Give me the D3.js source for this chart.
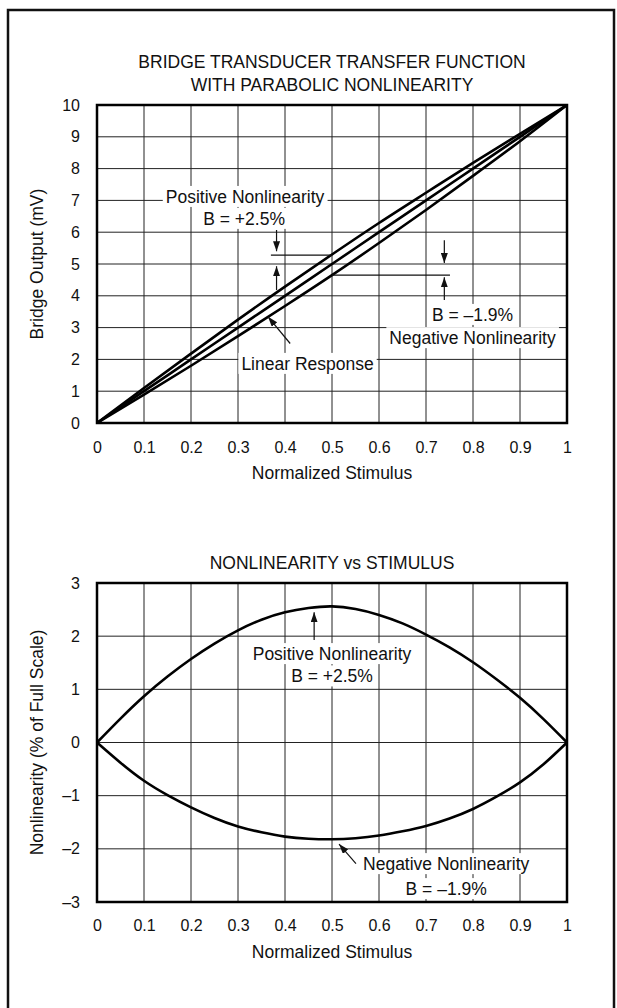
<!DOCTYPE html>
<html>
<head>
<meta charset="utf-8">
<script src="https://cdn.jsdelivr.net/npm/d3@7/dist/d3.min.js"></script>
<style>
  html, body { margin: 0; padding: 0; background: #fff; }
  svg { display: block; }
  text { font-family: "Liberation Sans", Arial, Helvetica, sans-serif; fill: #111; }
</style>
</head>
<body>
<svg id="chart" width="617" height="1008"></svg>
<script>
// ---------------- DATA ----------------
const xTicks = [0, 0.1, 0.2, 0.3, 0.4, 0.5, 0.6, 0.7, 0.8, 0.9, 1];
const xTickLabels = ["0", "0.1", "0.2", "0.3", "0.4", "0.5", "0.6", "0.7", "0.8", "0.9", "1"];

// Top chart: bridge output (mV) vs normalized stimulus
const topYTicks = [0, 1, 2, 3, 4, 5, 6, 7, 8, 9, 10];
const topYTickLabels = ["0", "1", "2", "3", "4", "5", "6", "7", "8", "9", "10"];
const stimulusTop = [0, 0.1, 0.2, 0.3, 0.4, 0.5, 0.6, 0.7, 0.8, 0.9, 1];
const linearResponse = [0, 1, 2, 3, 4, 5, 6, 7, 8, 9, 10];
const positiveResponse = [0, 1.1, 2.18, 3.25, 4.29, 5.3, 6.29, 7.24, 8.18, 9.09, 10];
const negativeResponse = [0, 0.89, 1.8, 2.73, 3.68, 4.65, 5.66, 6.7, 7.77, 8.86, 10];

// Bottom chart: nonlinearity (% of full scale) vs normalized stimulus
const bottomYTicks = [-3, -2, -1, 0, 1, 2, 3];
const bottomYTickLabels = ["\u20133", "\u20132", "\u20131", "0", "1", "2", "3"];
const stimulusBottom = [0, 0.05, 0.1, 0.15, 0.2, 0.25, 0.3, 0.35, 0.4, 0.45, 0.5,
                        0.55, 0.6, 0.65, 0.7, 0.75, 0.8, 0.85, 0.9, 0.95, 1];
const positiveNonlinearity = [0, 0.45, 0.87, 1.24, 1.57, 1.86, 2.11, 2.31, 2.45, 2.53, 2.56,
                              2.51, 2.4, 2.24, 2.03, 1.79, 1.51, 1.19, 0.84, 0.44, 0];
const negativeNonlinearity = [0, -0.38, -0.72, -0.99, -1.22, -1.42, -1.58, -1.69, -1.77, -1.81, -1.82,
                              -1.8, -1.75, -1.67, -1.57, -1.43, -1.25, -1.02, -0.75, -0.41, 0];

// Texts
const topTitle = ["BRIDGE TRANSDUCER TRANSFER FUNCTION", "WITH PARABOLIC NONLINEARITY"];
const bottomTitle = "NONLINEARITY vs STIMULUS";
const xAxisTitle = "Normalized Stimulus";
const topYAxisTitle = "Bridge Output (mV)";
const bottomYAxisTitle = "Nonlinearity (% of Full Scale)";

// Annotations (in data units)
const topLabels = [
  { text: "Positive Nonlinearity", x: 0.315, y: 6.92 },
  { text: "B = +2.5%", x: 0.313, y: 6.23 },
  { text: "B = \u20131.9%", x: 0.799, y: 3.21 },
  { text: "Negative Nonlinearity", x: 0.799, y: 2.48 },
  { text: "Linear Response", x: 0.448, y: 1.67 }
];
const topArrows = [
  { x1: 0.382, y1: 6.07, x2: 0.382, y2: 5.4 },
  { x1: 0.382, y1: 4.18, x2: 0.382, y2: 4.93 },
  { x1: 0.739, y1: 5.75, x2: 0.739, y2: 5.03 },
  { x1: 0.739, y1: 3.87, x2: 0.739, y2: 4.58 },
  { x1: 0.411, y1: 2.5, x2: 0.364, y2: 3.34 }
];
const topMarkers = [
  { x1: 0.37, x2: 0.5, y: 5.28 },
  { x1: 0.5, x2: 0.751, y: 4.65 }
];
const bottomLabels = [
  { text: "Positive Nonlinearity", x: 0.5, y: 1.55 },
  { text: "B = +2.5%", x: 0.5, y: 1.13 },
  { text: "Negative Nonlinearity", x: 0.743, y: -2.4 },
  { text: "B = \u20131.9%", x: 0.743, y: -2.87 }
];
const bottomArrows = [
  { x1: 0.462, y1: 1.93, x2: 0.462, y2: 2.45 },
  { x1: 0.551, y1: -2.28, x2: 0.515, y2: -1.91 }
];

// ---------------- DRAW ----------------
const svg = d3.select("#chart");
const FONT = 17.5;
const TICKFONT = 16;

svg.append("defs").append("marker")
  .attr("id", "arrow")
  .attr("markerUnits", "userSpaceOnUse")
  .attr("markerWidth", 10).attr("markerHeight", 7)
  .attr("refX", 10).attr("refY", 3.5)
  .attr("orient", "auto")
  .append("path").attr("d", "M0,0 L10,3.5 L0,7 Z").attr("fill", "#111");

// outer frame
svg.append("rect")
  .attr("x", 8).attr("y", 10).attr("width", 606).attr("height", 1010)
  .attr("fill", "none").attr("stroke", "#111").attr("stroke-width", 2.5);

function drawPanel(opts) {
  const g = svg.append("g");
  const x = d3.scaleLinear().domain([0, 1]).range([97, 567]);
  const y = d3.scaleLinear().domain(opts.yDomain).range(opts.yRange);

  // grid
  g.append("g").selectAll("line").data(xTicks).join("line")
    .attr("x1", d => x(d)).attr("x2", d => x(d))
    .attr("y1", y(opts.yDomain[0])).attr("y2", y(opts.yDomain[1]))
    .attr("stroke", "#222").attr("stroke-width", 1);
  g.append("g").selectAll("line").data(opts.yTicks).join("line")
    .attr("y1", d => y(d)).attr("y2", d => y(d))
    .attr("x1", x(0)).attr("x2", x(1))
    .attr("stroke", "#222").attr("stroke-width", 1);

  // axes (labels only)
  const xa = g.append("g").attr("transform", `translate(0,${y(opts.yDomain[0])})`)
    .call(d3.axisBottom(x).tickValues(xTicks).tickFormat((d, i) => xTickLabels[i])
      .tickSize(0).tickPadding(opts.xPad));
  const ya = g.append("g").attr("transform", `translate(${x(0)},0)`)
    .call(d3.axisLeft(y).tickValues(opts.yTicks).tickFormat((d, i) => opts.yTickLabels[i])
      .tickSize(0).tickPadding(17));
  [xa, ya].forEach(a => {
    a.select(".domain").remove();
    a.selectAll("text").attr("font-size", TICKFONT)
      .attr("font-family", "'Liberation Sans', Arial, sans-serif").attr("fill", "#111");
  });

  // curves
  const line = d3.line().x(d => x(d[0])).y(d => y(d[1])).curve(d3.curveNatural);
  opts.series.forEach(s => {
    g.append("path")
      .datum(opts.xs.map((v, i) => [v, s[i]]))
      .attr("d", line)
      .attr("fill", "none").attr("stroke", "#000").attr("stroke-width", 2.6)
      .attr("stroke-linejoin", "round");
  });

  // markers
  (opts.markers || []).forEach(m => {
    g.append("line")
      .attr("x1", x(m.x1)).attr("x2", x(m.x2)).attr("y1", y(m.y)).attr("y2", y(m.y))
      .attr("stroke", "#111").attr("stroke-width", 1.2);
  });

  // labels with white background
  opts.labels.forEach(l => {
    const t = g.append("text")
      .attr("x", x(l.x)).attr("y", y(l.y))
      .attr("text-anchor", "middle").attr("font-size", FONT)
      .text(l.text);
    const b = t.node().getBBox();
    g.insert("rect", () => t.node())
      .attr("x", b.x - 3).attr("y", b.y - 1).attr("width", b.width + 6).attr("height", b.height + 1)
      .attr("fill", "#fff");
  });

  // arrows
  opts.arrows.forEach(a => {
    g.append("line")
      .attr("x1", x(a.x1)).attr("y1", y(a.y1)).attr("x2", x(a.x2)).attr("y2", y(a.y2))
      .attr("stroke", "#111").attr("stroke-width", 1.2)
      .attr("marker-end", "url(#arrow)");
  });

  // plot frame
  g.append("rect")
    .attr("x", x(0)).attr("y", y(opts.yDomain[1]))
    .attr("width", x(1) - x(0)).attr("height", y(opts.yDomain[0]) - y(opts.yDomain[1]))
    .attr("fill", "none").attr("stroke", "#000").attr("stroke-width", 2.5);

  // titles
  opts.title.forEach((t, i) => {
    g.append("text").attr("x", (x(0) + x(1)) / 2).attr("y", opts.titleY + i * 23)
      .attr("text-anchor", "middle").attr("font-size", FONT).text(t);
  });
  g.append("text").attr("x", (x(0) + x(1)) / 2).attr("y", opts.xTitleY)
    .attr("text-anchor", "middle").attr("font-size", FONT).text(xAxisTitle);
  const cy = (y(opts.yDomain[0]) + y(opts.yDomain[1])) / 2;
  g.append("text")
    .attr("transform", `translate(43,${cy}) rotate(-90)`)
    .attr("text-anchor", "middle").attr("font-size", FONT).text(opts.yTitle);
}

drawPanel({
  yDomain: [0, 10], yRange: [423, 105],
  yTicks: topYTicks, yTickLabels: topYTickLabels,
  xs: stimulusTop, series: [positiveResponse, linearResponse, negativeResponse],
  markers: topMarkers, labels: topLabels, arrows: topArrows,
  title: topTitle, titleY: 68, xTitleY: 479, xPad: 19,
  yTitle: topYAxisTitle
});

drawPanel({
  yDomain: [-3, 3], yRange: [902, 583],
  yTicks: bottomYTicks, yTickLabels: bottomYTickLabels,
  xs: stimulusBottom, series: [positiveNonlinearity, negativeNonlinearity],
  markers: [], labels: bottomLabels, arrows: bottomArrows,
  title: [bottomTitle], titleY: 569, xTitleY: 958, xPad: 18,
  yTitle: bottomYAxisTitle
});
</script>
</body>
</html>
